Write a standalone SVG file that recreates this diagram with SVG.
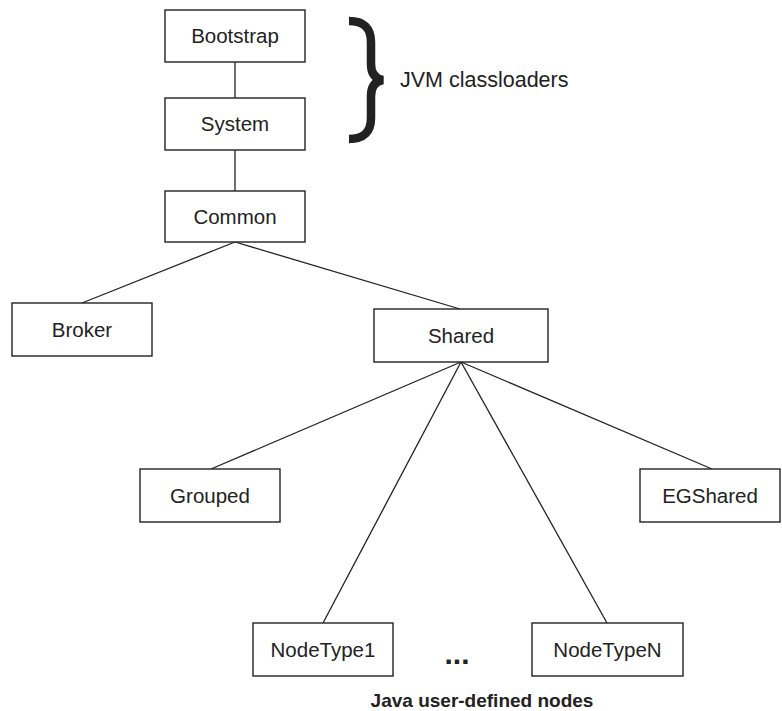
<svg xmlns="http://www.w3.org/2000/svg" width="782" height="711" viewBox="0 0 782 711">
<style>
.box{fill:#fff;stroke:#222;stroke-width:1.4}
.lbl{font-family:"Liberation Sans",Arial,sans-serif;font-size:20.5px;fill:#222;text-anchor:middle}
.edge{stroke:#222;stroke-width:1.3;fill:none}
.bold{font-family:"Liberation Sans",Arial,sans-serif;font-weight:bold;fill:#222}
</style>
<rect width="782" height="711" fill="#fff"/>
<g id="connectors">
<line class="edge" x1="235" y1="62" x2="235" y2="98"/>
<line class="edge" x1="235" y1="150" x2="235" y2="191"/>
<line class="edge" x1="235" y1="242" x2="82" y2="303"/>
<line class="edge" x1="235" y1="242" x2="460" y2="309"/>
<line class="edge" x1="461" y1="362" x2="211" y2="469"/>
<line class="edge" x1="461" y1="362" x2="323" y2="623"/>
<line class="edge" x1="461" y1="362" x2="607" y2="623"/>
<line class="edge" x1="461" y1="362" x2="712" y2="469"/>
</g>
<g id="bootstrap"><rect class="box" x="165" y="10" width="140" height="52"/><text class="lbl" x="235" y="43">Bootstrap</text></g>
<g id="system"><rect class="box" x="165" y="98" width="140" height="52"/><text class="lbl" x="235" y="131">System</text></g>
<g id="common"><rect class="box" x="165" y="191" width="140" height="51"/><text class="lbl" x="235" y="224">Common</text></g>
<g id="broker"><rect class="box" x="12" y="303" width="140" height="53"/><text class="lbl" x="82" y="337">Broker</text></g>
<g id="shared"><rect class="box" x="374" y="309" width="174" height="53"/><text class="lbl" x="461" y="343">Shared</text></g>
<g id="grouped"><rect class="box" x="140" y="469" width="140" height="53"/><text class="lbl" x="210" y="503">Grouped</text></g>
<g id="egshared"><rect class="box" x="640" y="469" width="140" height="53"/><text class="lbl" x="710" y="503">EGShared</text></g>
<g id="nodetype1"><rect class="box" x="253" y="623" width="140" height="53"/><text class="lbl" x="323" y="657">NodeType1</text></g>
<g id="nodetypen"><rect class="box" x="532" y="623" width="151" height="53"/><text class="lbl" x="607.5" y="657">NodeTypeN</text></g>
<g id="jvm-brace">
<path d="M349 21 Q371 21 371 42 L371 64 Q371 78 383 80 Q371 82 371 96 L371 118 Q371 139 349 139" fill="none" stroke="#222" stroke-width="8.5"/>
<text class="lbl" x="400" y="87" style="text-anchor:start;font-size:21.5px">JVM classloaders</text>
</g>
<text class="bold" x="457" y="664" style="text-anchor:middle;font-size:30px">...</text>
<text class="bold" x="482" y="707" style="text-anchor:middle;font-size:19px">Java user-defined nodes</text>
</svg>
